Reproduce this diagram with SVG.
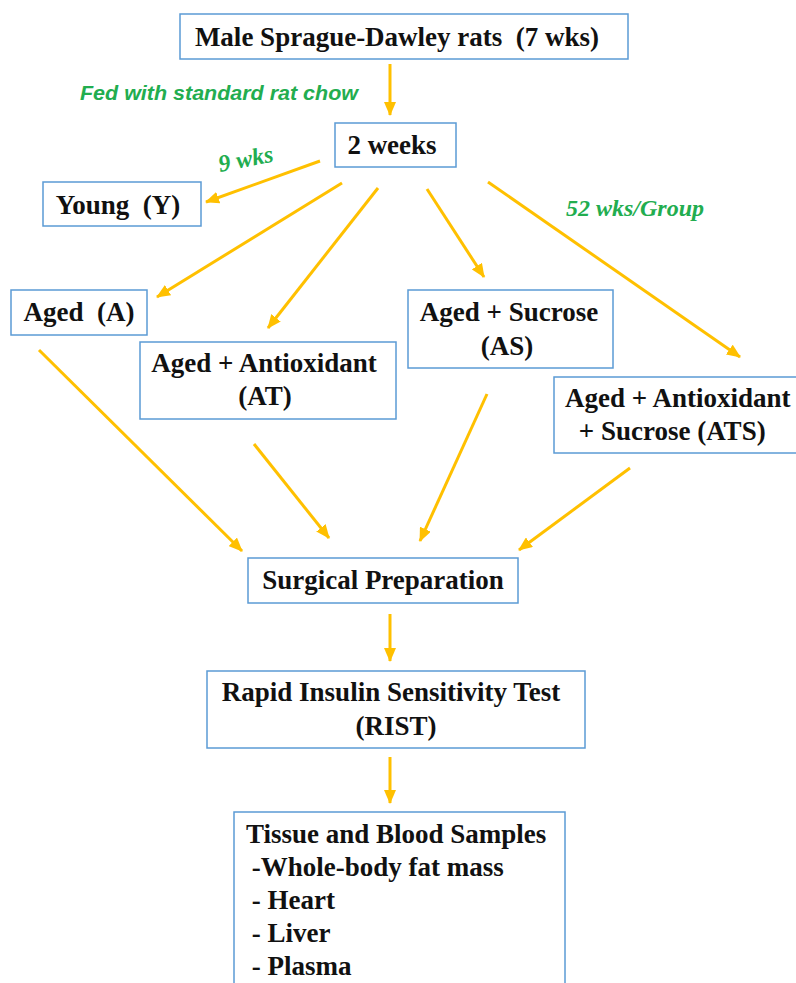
<svg xmlns="http://www.w3.org/2000/svg" width="796" height="983" viewBox="0 0 796 983">
<style>
.box{fill:#fff;stroke:#5B9BD5;stroke-width:1.5}
.t{font-family:"Liberation Serif","Times New Roman",serif;font-weight:bold;font-size:27px;fill:#111;white-space:pre}
.c{text-anchor:middle}
.g{font-family:"Liberation Serif","Times New Roman",serif;font-weight:bold;font-style:italic;font-size:24px;fill:#22AD4F}
.gs{font-family:"Liberation Sans",Arial,sans-serif;font-weight:bold;font-style:italic;font-size:20.5px;fill:#22AD4F}
.a{stroke:#FFC000;stroke-width:3;fill:none;marker-end:url(#ah)}
</style>
<defs>
<marker id="ah" markerUnits="userSpaceOnUse" markerWidth="14" markerHeight="12" refX="13" refY="6" orient="auto">
<path d="M0,0 L14,6 L0,12 z" fill="#FFC000"/>
</marker>
</defs>
<rect width="796" height="983" fill="#fff"/>
<g id="connectors">
<line class="a" x1="390" y1="64" x2="390" y2="115"/>
<line class="a" x1="320" y1="161" x2="206" y2="202"/>
<line class="a" x1="342" y1="183" x2="157" y2="297"/>
<line class="a" x1="378" y1="188" x2="268" y2="328"/>
<line class="a" x1="427" y1="189" x2="484" y2="277"/>
<line class="a" x1="488" y1="182" x2="740" y2="357"/>
<line class="a" x1="39" y1="350" x2="242" y2="551"/>
<line class="a" x1="254" y1="444" x2="329" y2="538"/>
<line class="a" x1="487" y1="394" x2="420" y2="541"/>
<line class="a" x1="630" y1="468" x2="519" y2="550"/>
<line class="a" x1="390" y1="614" x2="390" y2="661"/>
<line class="a" x1="390" y1="757" x2="390" y2="803"/>
</g>
<g id="labels">
<text class="gs" x="80" y="100" textLength="278" lengthAdjust="spacingAndGlyphs">Fed with standard rat chow</text>
<text class="g" x="220" y="172" transform="rotate(-11 220 172)">9 wks</text>
<text class="g" x="566" y="216">52 wks/Group</text>
</g>
<g id="n-male">
<rect class="box" x="180" y="14" width="448" height="45"/>
<text class="t c" x="397" y="46">Male Sprague-Dawley rats  (7 wks)</text>
</g>
<g id="n-2weeks">
<rect class="box" x="335" y="123" width="121" height="44"/>
<text class="t c" x="392" y="154">2 weeks</text>
</g>
<g id="n-young">
<rect class="box" x="43" y="182" width="158" height="44"/>
<text class="t c" x="118" y="214">Young  (Y)</text>
</g>
<g id="n-aged">
<rect class="box" x="11" y="290" width="136" height="45"/>
<text class="t c" x="79" y="321">Aged  (A)</text>
</g>
<g id="n-at">
<rect class="box" x="140" y="342" width="256" height="77"/>
<text class="t c" x="264" y="372">Aged + Antioxidant</text>
<text class="t c" x="265" y="405">(AT)</text>
</g>
<g id="n-as">
<rect class="box" x="408" y="290" width="205" height="78"/>
<text class="t c" x="509" y="321">Aged + Sucrose</text>
<text class="t c" x="507" y="355">(AS)</text>
</g>
<g id="n-ats">
<rect class="box" x="554" y="377" width="260" height="76"/>
<text class="t" x="565" y="407">Aged + Antioxidant</text>
<text class="t" x="572" y="440"> + Sucrose (ATS)</text>
</g>
<g id="n-surgical">
<rect class="box" x="248" y="558" width="270" height="45"/>
<text class="t c" x="383" y="589">Surgical Preparation</text>
</g>
<g id="n-rist">
<rect class="box" x="207" y="671" width="378" height="77"/>
<text class="t c" x="391" y="701">Rapid Insulin Sensitivity Test</text>
<text class="t c" x="396" y="735">(RIST)</text>
</g>
<g id="n-tissue">
<rect class="box" x="234" y="812" width="331" height="200"/>
<text class="t" x="246" y="843">Tissue and Blood Samples</text>
<text class="t" x="245" y="876"> -Whole-body fat mass</text>
<text class="t" x="245" y="909"> - Heart</text>
<text class="t" x="245" y="942"> - Liver</text>
<text class="t" x="245" y="975"> - Plasma</text>
</g>
</svg>
